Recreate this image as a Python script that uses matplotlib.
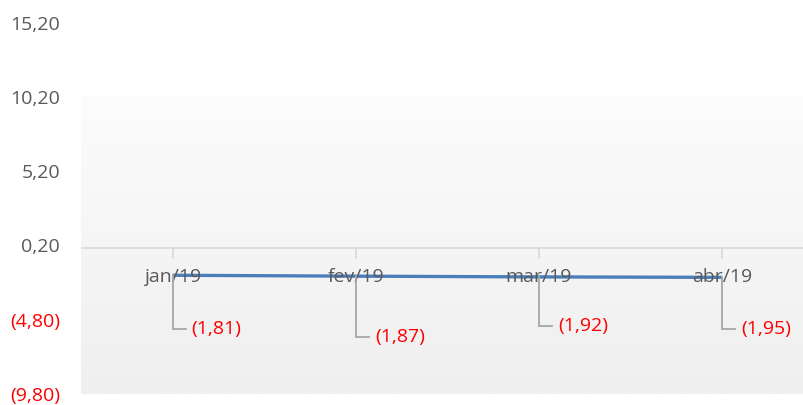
import matplotlib.pyplot as plt
import matplotlib.colors as mcolors
import numpy as np

# data
months = ["jan/19", "fev/19", "mar/19", "abr/19"]
values = [-1.81, -1.87, -1.92, -1.95]
y_ticks = [-9.8, -4.8, 0.2, 5.2, 10.2, 15.2]

# label placement (pixels below each point)
label_drop = [54, 61, 49, 52]


def br_fmt(v):
    s = f"{abs(v):.2f}".replace(".", ",")
    return f"({s})" if v < 0 else s


plt.rcParams['font.family'] = ['Open Sans', 'DejaVu Sans']

W, H = 804, 405
fig = plt.figure(figsize=(W / 100, H / 100), dpi=100)
ax = fig.add_axes([81 / W, 1 - 394 / H, (813.7 - 81) / W, (394 - 22.5) / H])
x = np.arange(len(months))
ax.set_xlim(-0.5, len(months) - 0.5)
ax.set_ylim(-9.8, 15.2)

# gradient plot-area fill (white above the 10,20 level)
grad = np.linspace(0, 1, 256).reshape(-1, 1)
cmap = mcolors.LinearSegmentedColormap.from_list("bg", ["#fcfcfc", "#efefef"])
ax.imshow(grad, cmap=cmap, aspect="auto", extent=[-0.5, len(months) - 0.5, -9.8, 10.2],
          origin="upper", zorder=0)

for s in ax.spines.values():
    s.set_visible(False)

# horizontal axis line and category tick marks
ax.axhline(0, color="#d9d9d9", lw=1.2, zorder=1)
for xi in x:
    ax.plot([xi, xi], [0, -0.65], color="#d9d9d9", lw=1.2, zorder=1)

ax.plot(x, values, color="#4a7ebb", lw=2.4, zorder=2, solid_capstyle="butt")

# category labels
for xi, m in zip(x, months):
    ax.text(xi, -1.95, m, ha="center", va="center", fontsize=14, color="#595959", zorder=3)

# data labels with elbow leader lines (built in pixels, mapped back to data)
to_px = ax.transData
to_data = ax.transData.inverted()
for xi, v, d in zip(x, values, label_drop):
    px, py = to_px.transform((xi, v))
    pts = np.array([[px, py], [px, py - d], [px + 13, py - d]])
    lx, ly = to_data.transform(pts).T
    ax.plot(lx, ly, color="#a6a6a6", lw=1.3, zorder=3, solid_joinstyle="miter")
    tx, ty = to_data.transform((px + 19, py - d))
    ax.text(tx, ty, br_fmt(v), ha="left", va="center", fontsize=14, color="#ff0000", zorder=4)

ax.set_xticks([])
ax.set_yticks(y_ticks)
ax.set_yticklabels([br_fmt(t) for t in y_ticks])
ax.tick_params(axis="y", length=0, pad=15, labelsize=14)
for lbl, t in zip(ax.get_yticklabels(), y_ticks):
    lbl.set_color("#ff0000" if t < 0 else "#595959")

fig.savefig("out.png", dpi=100)
